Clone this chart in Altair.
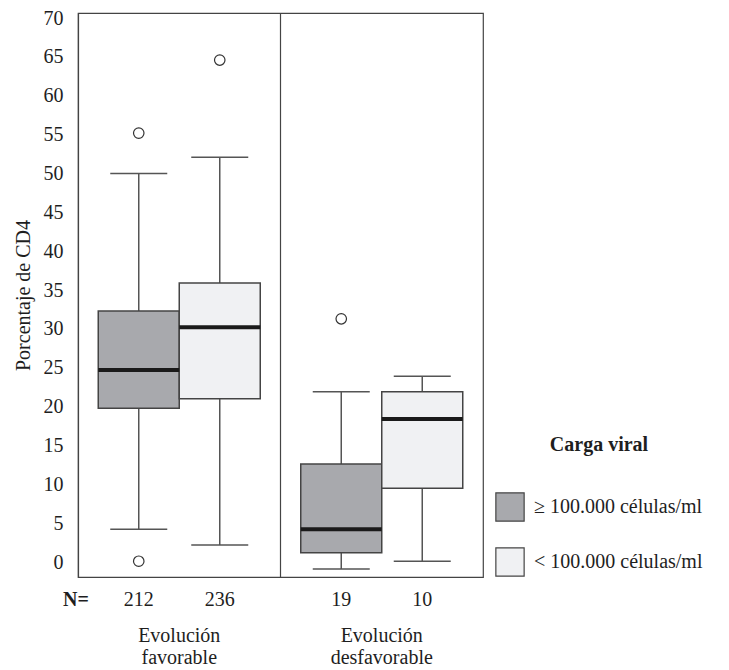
import altair as alt
import pandas as pd

grupos = ["Evolución|favorable", "Evolución|favorable", "Evolución|desfavorable", "Evolución|desfavorable"]
cargas = ["≥ 100.000 células/ml", "< 100.000 células/ml", "≥ 100.000 células/ml", "< 100.000 células/ml"]
w_low = [4.2, 2.2, -0.9, 0.1]
q1 = [19.8, 21.0, 1.2, 9.5]
med = [24.7, 30.2, 4.2, 18.4]
q3 = [32.3, 35.9, 12.6, 21.9]
w_high = [50.0, 52.1, 21.9, 23.9]
n_vals = ["212", "236", "19", "10"]

out_grupo = ["Evolución|favorable", "Evolución|favorable", "Evolución|favorable", "Evolución|desfavorable"]
out_carga = ["≥ 100.000 células/ml", "≥ 100.000 células/ml", "< 100.000 células/ml", "≥ 100.000 células/ml"]
out_val = [55.2, 0.1, 64.6, 31.3]

group_order = ["Evolución|favorable", "Evolución|desfavorable"]
carga_order = ["≥ 100.000 células/ml", "< 100.000 células/ml"]
colors = ["#a8a9ad", "#f0f1f3"]

df = pd.DataFrame({"grupo": grupos, "carga": cargas, "lo": w_low, "q1": q1,
                   "med": med, "q3": q3, "hi": w_high, "n": n_vals})
dout = pd.DataFrame({"grupo": out_grupo, "carga": out_carga, "v": out_val})

W, H = 405, 564
FONT = "Liberation Serif"
FS = 20
TXT = "#1e1e1e"

x = alt.X("grupo:N", sort=group_order, title=None,
          scale=alt.Scale(paddingInner=0, paddingOuter=0),
          axis=alt.Axis(labelExpr="split(datum.value, '|')", labelAngle=0,
                        labelPadding=48, labelFontSize=FS, labelLineHeight=22,
                        labelBaseline="top", ticks=False, domain=False,
                        grid=True, bandPosition=0, gridColor="#444", gridWidth=1.2,
                        labelColor=TXT, labelFont=FONT))
xo = alt.XOffset("carga:N", sort=carga_order,
                 scale=alt.Scale(paddingInner=0, paddingOuter=0.25))
ydom = alt.Scale(domain=[-1.93, 70.66], nice=False, zero=False)
yax = alt.Axis(values=list(range(0, 75, 5)), ticks=False, domain=False, grid=False,
               labelPadding=15, labelFontSize=FS, labelColor=TXT, labelFont=FONT,
               title="Porcentaje de CD4", titleFontSize=FS, titleFontWeight="normal",
               titleFont=FONT, titleColor=TXT, titlePadding=10)

base = alt.Chart(df)

whisk = base.mark_rule(color="#555", strokeWidth=1.5).encode(
    x=x, xOffset=xo, y=alt.Y("lo:Q", scale=ydom, axis=yax), y2="hi:Q")

box = base.mark_bar(stroke="#444", strokeWidth=1.5, opacity=1).encode(
    x=x, xOffset=xo, y=alt.Y("q1:Q", scale=ydom), y2="q3:Q",
    color=alt.Color("carga:N", sort=carga_order,
                    scale=alt.Scale(domain=carga_order, range=colors),
                    legend=alt.Legend(title="Carga viral", orient="none",
                                      legendX=417, legendY=422,
                                      titleFont=FONT, titleFontSize=FS,
                                      titleFontWeight="bold", titleColor=TXT,
                                      titleAnchor="middle", titlePadding=37,
                                      titleLimit=0,
                                      labelFont=FONT, labelFontSize=FS,
                                      labelColor=TXT, labelLimit=0,
                                      symbolType="square",
                                      symbolSize=800, symbolStrokeColor="#444",
                                      symbolStrokeWidth=1.2, rowPadding=21,
                                      labelOffset=9)))

median = base.mark_tick(color="#1a1a1a", size=81, thickness=4, opacity=1).encode(
    x=x, xOffset=xo, y=alt.Y("med:Q", scale=ydom))

cap_hi = base.mark_tick(color="#555", size=57, thickness=1.5, opacity=1).encode(
    x=x, xOffset=xo, y=alt.Y("hi:Q", scale=ydom))
cap_lo = base.mark_tick(color="#555", size=57, thickness=1.5, opacity=1).encode(
    x=x, xOffset=xo, y=alt.Y("lo:Q", scale=ydom))

outl = alt.Chart(dout).mark_point(shape="circle", filled=False, size=110,
                                  color="#333", strokeWidth=1.2, opacity=1).encode(
    x=x, xOffset=xo, y=alt.Y("v:Q", scale=ydom))

ntext = base.mark_text(font=FONT, fontSize=FS, color=TXT).encode(
    x=x, xOffset=xo, y=alt.value(H + 23), text="n:N")

nlabel = alt.Chart(pd.DataFrame({"t": ["N="]})).mark_text(
    font=FONT, fontSize=FS, fontWeight="bold", color=TXT).encode(
    x=alt.value(-2), y=alt.value(H + 23), text="t:N")

chart = alt.layer(whisk, box, median, cap_hi, cap_lo, outl, ntext, nlabel).properties(
    width=W, height=H, background="white",
    autosize=alt.AutoSizeParams(type="none"),
    padding={"left": 70, "top": 5, "right": 238, "bottom": 100},
).configure_view(stroke="#444", strokeWidth=1.2)

chart.save("out.html", embed_options={"renderer": "svg", "actions": False})
